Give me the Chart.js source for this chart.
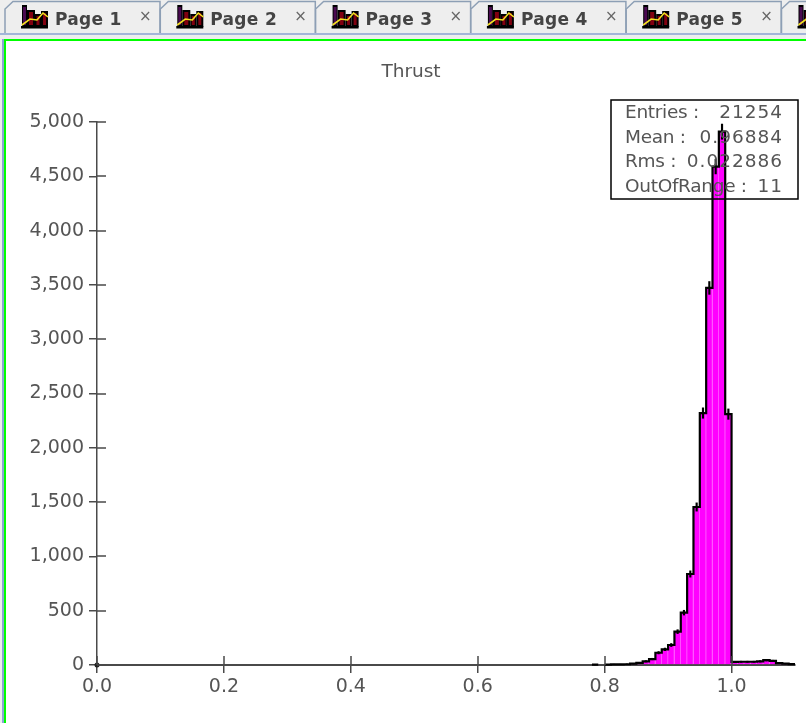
<!DOCTYPE html>
<html>
<head>
<meta charset="utf-8">
<title>Thrust</title>
<script src="https://cdn.jsdelivr.net/npm/chart.js@4"></script>
<style>
    html, body { margin: 0; padding: 0; width: 806px; height: 723px; overflow: hidden; background: #eeeeee; }
    #page { position: absolute; left: 0; top: 0; width: 806px; height: 723px; overflow: hidden; filter: blur(0.45px); }
    #tabs { position: absolute; left: 0; top: 0; }
    #frame { position: absolute; left: 2px; top: 39px; width: 810px; height: 690px; background: #ffffff; border-left: 2px solid #8fa3d6; }
    #inner { position: absolute; left: 0; top: 0; width: 100%; height: 100%; box-sizing: border-box; border-left: 2px solid #00ff00; border-top: 2px solid #00ff00; }
    #chartBox { position: absolute; left: 16px; top: 42px; width: 790px; height: 681px; }
</style>
</head>
<body>
<div id="page">
    <svg id="tabs" width="806" height="39"></svg>
    <div id="frame"><div id="inner"></div></div>
    <div id="chartBox"><canvas id="myChart" width="790" height="681"></canvas></div>
</div>
<script>
const tabLabels = ['Page 1', 'Page 2', 'Page 3', 'Page 4', 'Page 5', ''];

const binLow = [0.78, 0.79, 0.80, 0.81, 0.82, 0.83, 0.84, 0.85, 0.86, 0.87, 0.88, 0.89, 0.90, 0.91, 0.92, 0.93,
    0.94, 0.95, 0.96, 0.97, 0.98, 0.99, 1.00, 1.01, 1.02, 1.03, 1.04, 1.05, 1.06, 1.07, 1.08, 1.09];
const counts = [3, null, 4, 5, 5, 7, 12, 20, 34, 55, 113, 144, 184, 307, 482, 838,
    1455, 2320, 3472, 4590, 4911, 2310, 28, 30, 30, 30, 34, 44, 38, 18, 12, 8];
const errors = [2, null, 2, 2, 2, 3, 3, 4, 6, 7, 11, 12, 14, 18, 22, 29,
    38, 48, 59, 68, 70, 48, 5, 5, 5, 5, 6, 7, 6, 4, 3, 3];
const binWidth = 0.01;

const statLabels = ['Entries :', 'Mean :', 'Rms :', 'OutOfRange :'];
const statValues = ['21254', '0.96884', '0.022886', '11'];

// tab strip, plain svg
function drawTabs() {
    const svg = document.getElementById('tabs');
    let html = '<rect x="0" y="33" width="806" height="2" fill="#a3b5d9"/>';
    tabLabels.forEach(function(label, i) {
        const left = 5 + i * 155.3;
        html += `<g transform="translate(${left},0)">
            <path d="M0,33 L0,9 L8,1.5 L155,1.5 L155,33" fill="#eeeeee" stroke="#8d9fb5" stroke-width="1.5"/>
            <rect x="16" y="26" width="27" height="2.5" fill="#000"/>
            <rect x="17" y="5" width="5" height="22" fill="#000"/>
            <rect x="18" y="7" width="3" height="18" fill="#4a0a50"/>
            <rect x="22" y="10" width="8" height="17" fill="#000"/>
            <rect x="24" y="12" width="4" height="13" fill="#800010"/>
            <rect x="30" y="14" width="6" height="13" fill="#000"/>
            <rect x="31.5" y="16" width="3" height="9" fill="#800010"/>
            <rect x="36" y="11" width="7" height="16" fill="#000"/>
            <rect x="38" y="13" width="3" height="12" fill="#800010"/>
            <polyline points="17,25 25,19 32,20 38,13 43,17" fill="none" stroke="#f4e020" stroke-width="1.6"/>`;
        if (label) {
            html += `<text x="50" y="25" font-family="DejaVu Sans" font-weight="bold" font-size="17" letter-spacing="0.3" fill="#444444">${label}</text>
            <text x="134" y="21" font-family="DejaVu Sans" font-size="15" fill="#666666">×</text>`;
        }
        html += '</g>';
    });
    svg.innerHTML = html;
}
drawTabs();

const barData = binLow.map((low, i) => ({ x: low + binWidth / 2, y: counts[i] }));
const errorData = binLow.map((low, i) => ({
    x: low + binWidth / 2,
    y: counts[i] === null ? null : [counts[i] - errors[i], counts[i] + errors[i]]
}));
// outline goes along the top of each bin, null bins leave a gap
const outlineData = binLow.flatMap((low, i) => [
    { x: low, y: counts[i] },
    { x: low + binWidth, y: counts[i] }
]);

const axisColor = '#4a4a4a';
const textColor = '#555555';
const fontFamily = '"DejaVu Sans"';

// chart.js ticks only go outwards, so add the inner half, then the stats box
const statsPlugin = {
    id: 'statsBox',
    afterDraw(chart) {
        const ctx = chart.ctx;
        const xScale = chart.scales.x;
        const yScale = chart.scales.y;
        ctx.save();
        ctx.strokeStyle = axisColor;
        ctx.lineWidth = 1.5;
        ctx.beginPath();
        yScale.ticks.forEach((t, i) => {
            const y = Math.round(yScale.getPixelForTick(i));
            ctx.moveTo(xScale.left, y);
            ctx.lineTo(xScale.left + 9, y);
        });
        xScale.ticks.forEach((t, i) => {
            const x = Math.round(xScale.getPixelForTick(i));
            ctx.moveTo(x, yScale.bottom);
            ctx.lineTo(x, yScale.bottom - 9);
        });
        ctx.stroke();

        ctx.strokeStyle = '#000000';
        ctx.lineWidth = 1.5;
        ctx.strokeRect(595, 58, 187, 99);
        ctx.font = '18.5px ' + fontFamily;
        ctx.fillStyle = textColor;
        ctx.textBaseline = 'middle';
        statLabels.forEach((label, i) => {
            const y = 71.5 + i * 24.4;
            ctx.letterSpacing = '-0.3px';
            ctx.textAlign = 'left';
            ctx.fillText(label, 609, y);
            ctx.letterSpacing = '1px';
            ctx.textAlign = 'right';
            ctx.fillText(statValues[i], 767, y);
        });
        ctx.restore();
    }
};

window.myChart = new Chart(document.getElementById('myChart').getContext('2d'), {
    type: 'bar',
    data: {
        datasets: [
            {
                type: 'bar',
                data: barData,
                backgroundColor: '#ff00ff',
                borderColor: '#ff66ff',
                borderWidth: { right: 1, left: 0, top: 0, bottom: 0 },
                barPercentage: 1,
                categoryPercentage: 1,
                grouped: false,
                order: 4
            },
            {
                type: 'line',
                data: outlineData,
                borderColor: '#000000',
                borderWidth: 2.2,
                pointRadius: 0,
                tension: 0,
                spanGaps: false,
                clip: false,
                order: 3
            },
            {
                type: 'bar',
                data: errorData,
                backgroundColor: '#000000',
                borderWidth: 0,
                barThickness: 1.5,
                grouped: false,
                clip: false,
                order: 2
            },
            {
                type: 'line',
                data: [{ x: 0, y: 0 }],
                showLine: false,
                pointRadius: 2.5,
                pointBackgroundColor: '#222222',
                pointBorderWidth: 0,
                clip: false,
                order: 1
            }
        ]
    },
    options: {
        responsive: false,
        animation: false,
        layout: { padding: { left: 11, right: 11 } },
        plugins: {
            legend: { display: false },
            tooltip: { enabled: false },
            title: {
                display: true,
                text: 'Thrust',
                color: textColor,
                font: { family: fontFamily, size: 18.5, weight: 'normal', lineHeight: '23px' },
                padding: { top: 19, bottom: 38 }
            }
        },
        scales: {
            x: {
                type: 'linear',
                min: 0,
                max: 1.1,
                offset: false,
                afterFit: s => { s.height = 58; },
                border: { color: axisColor, width: 2 },
                grid: { offset: false, drawOnChartArea: false, color: axisColor, lineWidth: 1.5, tickLength: 8 },
                ticks: {
                    stepSize: 0.2,
                    includeBounds: false,
                    maxRotation: 0,
                    padding: 3,
                    color: textColor,
                    font: { family: fontFamily, size: 19 },
                    callback: v => v.toFixed(1)
                }
            },
            y: {
                min: 0,
                max: 5000,
                afterFit: s => { s.width = 70; },
                border: { color: axisColor, width: 1.5 },
                grid: { drawOnChartArea: false, color: axisColor, lineWidth: 1.5, tickLength: 8 },
                ticks: {
                    stepSize: 500,
                    padding: 5,
                    color: textColor,
                    font: { family: fontFamily, size: 19 },
                    callback: v => v.toLocaleString('en-US')
                }
            }
        }
    },
    plugins: [statsPlugin]
});
</script>
</body>
</html>
